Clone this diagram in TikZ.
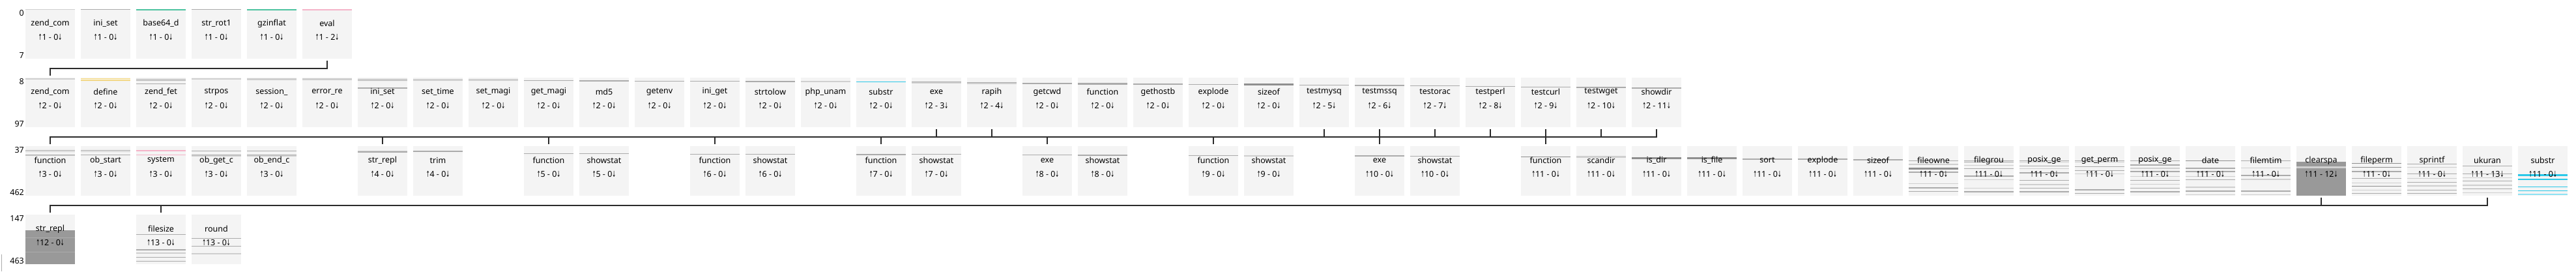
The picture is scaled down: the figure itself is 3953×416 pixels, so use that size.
\documentclass[tikz,border=0pt]{standalone}
\usepackage{fontspec}
\setmainfont{Noto Sans}
\newfontfamily\arrowfont{DejaVu Sans}
\usetikzlibrary{calc}

\definecolor{boxfill}{HTML}{F4F4F4}
\definecolor{stripeL}{HTML}{CFCFCF}
\definecolor{stripeM}{HTML}{ABABAB}
\definecolor{stripeD}{HTML}{8F8F8F}
\definecolor{blockgray}{HTML}{999999}
\definecolor{tealline}{HTML}{4CC39F}
\definecolor{pinkline}{HTML}{F5B3C8}
\definecolor{yelline}{HTML}{F2C94C}
\definecolor{yellight}{HTML}{F9E29A}
\definecolor{cyanline}{HTML}{2BC8E8}
\definecolor{cyanlight}{HTML}{8FE3F3}
\definecolor{wirecol}{HTML}{2B2B2B}

\newcommand{\upar}{{\arrowfont\scalebox{0.55}[1]{↑}}}
\newcommand{\dnar}{{\arrowfont\scalebox{0.55}[1]{↓}}}

% box, stripes, then the two text lines on top
\newcommand{\callbox}[7]{%
  \node[callbox] (#1) at ({77+85*#2},{#3+38}) {};
  \foreach \o/\s in {#7} {\draw[\s] ([yshift=-\o pt]#1.north west) -- ([yshift=-\o pt]#1.north east);}
  \node[fname] (#1n) at ([yshift=-22pt]#1.north) {#4};
  \node[fname] (#1c) at ([yshift=-43pt]#1.north) {\upar#5 - #6\dnar};
}

\begin{document}
\begin{tikzpicture}[
    x=1pt,y=-1pt,
    callbox/.style={rectangle,fill=boxfill,draw=none,minimum width=76pt,minimum height=76pt,inner sep=0pt},
    fname/.style={font=\fontsize{12.5}{15}\selectfont,inner sep=0pt,text=black},
    rowlabel/.style={font=\fontsize{12.5}{15}\selectfont,inner sep=0pt,anchor=east,text=black},
    wire/.style={draw=wirecol,line width=1.6pt,shorten <=2.5pt,shorten >=2.5pt},
    sl/.style={draw=stripeL,line width=1.3pt},
    slt/.style={draw=stripeL,line width=2.5pt},
    sm/.style={draw=stripeM,line width=1.3pt},
    smt/.style={draw=stripeM,line width=2.5pt},
    sd/.style={draw=stripeD,line width=1.3pt},
    sdt/.style={draw=stripeD,line width=3pt},
    steal/.style={draw=tealline,line width=1.5pt},
    spink/.style={draw=pinkline,line width=1.5pt},
    syel/.style={draw=yelline,line width=1.5pt},
    syell/.style={draw=yellight,line width=1.5pt},
    scyan/.style={draw=cyanline,line width=1.5pt},
    scyant/.style={draw=cyanline,line width=2.5pt},
    scyanl/.style={draw=cyanlight,line width=1.5pt},
    blk/.style={draw=blockgray,line width=52pt},
]
\useasboundingbox (0,0) rectangle (3953,416);

% row labels
\node[rowlabel] (l0)   at (37,20)  {0};
\node[rowlabel] (l7)   at (37,85)  {7};
\node[rowlabel] (l8)   at (37,125) {8};
\node[rowlabel] (l97)  at (37,190) {97};
\node[rowlabel] (l37)  at (37,230) {37};
\node[rowlabel] (l462) at (37,295) {462};
\node[rowlabel] (l147) at (37,335) {147};
\node[rowlabel] (l463) at (37,400) {463};

% row 1
\callbox{r1c0}{0}{14}{zend\_com}{1}{0}{1/sl}
\callbox{r1c1}{1}{14}{ini\_set}{1}{0}{1/sm}
\callbox{r1c2}{2}{14}{base64\_d}{1}{0}{1/steal}
\callbox{r1c3}{3}{14}{str\_rot1}{1}{0}{1/sm}
\callbox{r1c4}{4}{14}{gzinflat}{1}{0}{1/steal}
\callbox{r1c5}{5}{14}{eval}{1}{2}{1/spink}

% row 2
\callbox{r2c0}{0}{119}{zend\_com}{2}{0}{2/slt}
\callbox{r2c1}{1}{119}{define}{2}{0}{2/syell,4.5/syel}
\callbox{r2c2}{2}{119}{zend\_fet}{2}{0}{3/sm,5/sm,10/sm}
\callbox{r2c3}{3}{119}{strpos}{2}{0}{2/slt}
\callbox{r2c4}{4}{119}{session\_}{2}{0}{2.5/slt}
\callbox{r2c5}{5}{119}{error\_re}{2}{0}{2.5/slt}
\callbox{r2c6}{6}{119}{ini\_set}{2}{0}{3/sm,5/sm,16.3/sm}
\callbox{r2c7}{7}{119}{set\_time}{2}{0}{3.7/slt}
\callbox{r2c8}{8}{119}{set\_magi}{2}{0}{3.7/slt}
\callbox{r2c9}{9}{119}{get\_magi}{2}{0}{4.7/sm}
\callbox{r2c10}{10}{119}{md5}{2}{0}{5/smt}
\callbox{r2c11}{11}{119}{getenv}{2}{0}{5.7/sm}
\callbox{r2c12}{12}{119}{ini\_get}{2}{0}{6/sm}
\callbox{r2c13}{13}{119}{strtolow}{2}{0}{6.3/sm}
\callbox{r2c14}{14}{119}{php\_unam}{2}{0}{6.3/slt}
\callbox{r2c15}{15}{119}{substr}{2}{0}{6.7/scyan}
\callbox{r2c16}{16}{119}{exe}{2}{3}{6.7/sm,8.3/sl}
\callbox{r2c17}{17}{119}{rapih}{2}{4}{7.7/sm,9.3/sl}
\callbox{r2c18}{18}{119}{getcwd}{2}{0}{9.3/sm}
\callbox{r2c19}{19}{119}{function}{2}{0}{9.7/smt}
\callbox{r2c20}{20}{119}{gethostb}{2}{0}{10.3/sm}
\callbox{r2c21}{21}{119}{explode}{2}{0}{10.7/sm}
\callbox{r2c22}{22}{119}{sizeof}{2}{0}{11/sdt}
\callbox{r2c23}{23}{119}{testmysq}{2}{5}{11.7/sm}
\callbox{r2c24}{24}{119}{testmssq}{2}{6}{12.3/sm}
\callbox{r2c25}{25}{119}{testorac}{2}{7}{13/sm}
\callbox{r2c26}{26}{119}{testperl}{2}{8}{13.7/sm}
\callbox{r2c27}{27}{119}{testcurl}{2}{9}{14.7/sm}
\callbox{r2c28}{28}{119}{testwget}{2}{10}{15.3/sm}
\callbox{r2c29}{29}{119}{showdir}{2}{11}{16.3/sm}

% row 3
\callbox{r3c0}{0}{224}{function}{3}{0}{7/sm,8.5/sl,13.7/sm,15/sl}
\callbox{r3c1}{1}{224}{ob\_start}{3}{0}{7/sm,8.5/sl,13.7/sm}
\callbox{r3c2}{2}{224}{system}{3}{0}{7/spink,13.7/spink}
\callbox{r3c3}{3}{224}{ob\_get\_c}{3}{0}{7.7/sm,13.7/sm,15.3/sl}
\callbox{r3c4}{4}{224}{ob\_end\_c}{3}{0}{7.7/sm,13.7/sm,15.3/sl}
\callbox{r3c6}{6}{224}{str\_repl}{4}{0}{7.7/sl,9.3/sm}
\callbox{r3c7}{7}{224}{trim}{4}{0}{8.3/smt}
\callbox{r3c9}{9}{224}{function}{5}{0}{12/sm}
\callbox{r3c10}{10}{224}{showstat}{5}{0}{12/sm}
\callbox{r3c12}{12}{224}{function}{6}{0}{12.7/sm}
\callbox{r3c13}{13}{224}{showstat}{6}{0}{12.7/sm}
\callbox{r3c15}{15}{224}{function}{7}{0}{13/smt}
\callbox{r3c16}{16}{224}{showstat}{7}{0}{13/sm}
\callbox{r3c18}{18}{224}{exe}{8}{0}{13.7/sm}
\callbox{r3c19}{19}{224}{showstat}{8}{0}{14.3/sm}
\callbox{r3c21}{21}{224}{function}{9}{0}{14.7/sm}
\callbox{r3c22}{22}{224}{showstat}{9}{0}{15/slt}
\callbox{r3c24}{24}{224}{exe}{10}{0}{15.3/sm}
\callbox{r3c25}{25}{224}{showstat}{10}{0}{16/sm}
\callbox{r3c27}{27}{224}{function}{11}{0}{16.7/sd}
\callbox{r3c28}{28}{224}{scandir}{11}{0}{16.7/slt}
\callbox{r3c29}{29}{224}{is\_dir}{11}{0}{18.3/sdt}
\callbox{r3c30}{30}{224}{is\_file}{11}{0}{19/sdt}
\callbox{r3c31}{31}{224}{sort}{11}{0}{20.3/sm}
\callbox{r3c32}{32}{224}{explode}{11}{0}{20.3/sm}
\callbox{r3c33}{33}{224}{sizeof}{11}{0}{21/smt}
\callbox{r3c34}{34}{224}{fileowne}{11}{0}{22.7/sm,28.3/sl,34.7/sdt,40.3/sm,58/sl,64.3/sm,70/sm}
\callbox{r3c35}{35}{224}{filegrou}{11}{0}{22.7/sm,24.7/sm,30/sl,34.7/sm,46.3/sm,51.7/sl,64.7/sl,70.3/sm}
\callbox{r3c36}{36}{224}{posix\_ge}{11}{0}{22.7/sm,24.7/sl,30.7/sm,35/sl,41.3/sm,52.7/sm,59.3/sl,64.7/sm,70.3/sm}
\callbox{r3c37}{37}{224}{get\_perm}{11}{0}{22.7/sm,24.7/sl,32/sm,37.7/sm,42.7/sl,67.3/sm,72.7/sm}
\callbox{r3c38}{38}{224}{posix\_ge}{11}{0}{22.7/sm,29.3/sm,34.3/sl,39.3/sm,46.7/sl,52.7/sm,58.7/sl,64.7/sm,70.3/sm}
\callbox{r3c39}{39}{224}{date}{11}{0}{22.7/sd,34.3/sm,39.3/sm,46.7/sl,52/sm,63.3/sl,69.3/sm,75/sl}
\callbox{r3c40}{40}{224}{filemtim}{11}{0}{22.7/sm,33.7/sl,45.3/sm,51.3/sl,69.3/sm,74.7/sl}
\callbox{r3c41}{41}{224}{clearspa}{11}{12}{50/blk,32.7/slt}
\callbox{r3c42}{42}{224}{fileperm}{11}{0}{26.7/sd,32.7/sd,39.3/sm,50/sm,56.7/sl,62/sd,68/sl,72.7/sm}
\callbox{r3c43}{43}{224}{sprintf}{11}{0}{27.7/sm,32.7/sl,42.7/sm,50/sl,56/sm,61.3/sl,68/sm,72.7/sm}
\callbox{r3c44}{44}{224}{ukuran}{11}{13}{31/sm,42.7/sm,48.7/sl,53.7/sm,60.3/sl,66/sm,72/sl}
\callbox{r3c45}{45}{224}{substr}{11}{0}{44.7/scyant,51/scyan,62.7/scyan,68.7/scyan,74.3/scyanl}

% row 4
\callbox{r4c0}{0}{329}{str\_repl}{12}{0}{50/blk,36/sm,58/sm}
\callbox{r4c2}{2}{329}{filesize}{13}{0}{31/sm,54.3/sm,59.3/sl,66/sm,72/sm}
\callbox{r4c3}{3}{329}{round}{13}{0}{36.7/sm,48.7/sm,60.3/sl}

% parent -> first child
\draw[wire] (r1c5.south)  -- ++(0,14.5) -| (r2c0.north);
\draw[wire] (r2c16.south) -- ++(0,14.5) -| (r3c0.north);
\draw[wire] (r2c17.south) -- ++(0,14.5) -| (r3c6.north);
\draw[wire] (r2c23.south) -- ++(0,14.5) -| (r3c9.north);
\draw[wire] (r2c24.south) -- ++(0,14.5) -| (r3c12.north);
\draw[wire] (r2c25.south) -- ++(0,14.5) -| (r3c15.north);
\draw[wire] (r2c26.south) -- ++(0,14.5) -| (r3c18.north);
\draw[wire] (r2c27.south) -- ++(0,14.5) -| (r3c21.north);
\draw[wire] (r2c28.south) -- ++(0,14.5) -| (r3c24.north);
\draw[wire] (r2c29.south) -- ++(0,14.5) -| (r3c27.north);
\draw[wire] (r3c41.south) -- ++(0,14.5) -| (r4c0.north);
\draw[wire] (r3c44.south) -- ++(0,14.5) -| (r4c2.north);

\draw[draw=stripeM,line width=1pt] (2,390) -- (2,416);
\end{tikzpicture}
\end{document}
